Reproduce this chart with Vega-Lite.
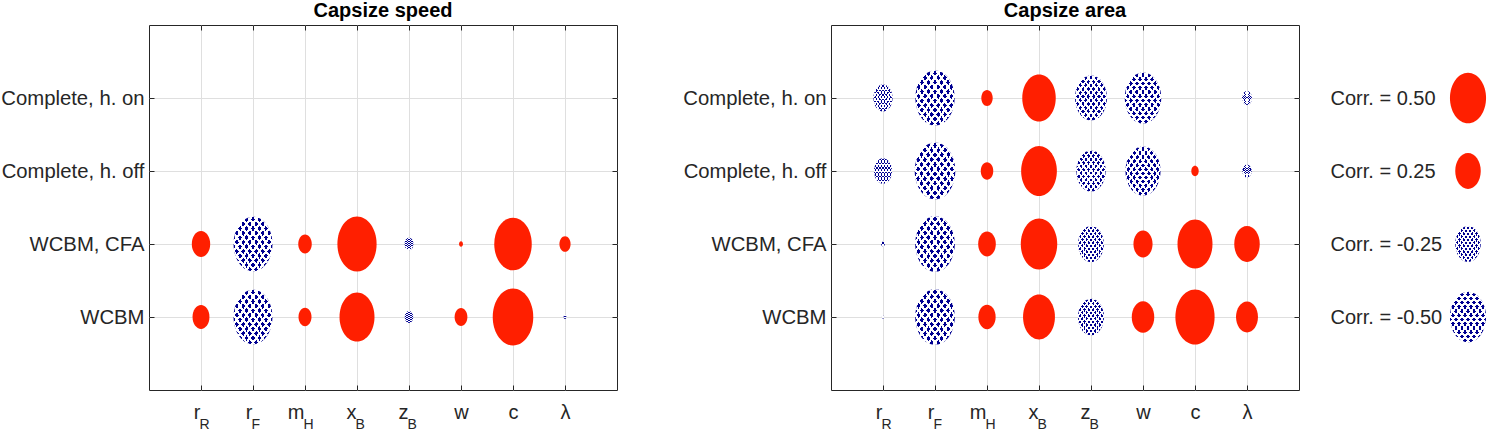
{
  "$schema": "https://vega.github.io/schema/vega-lite/v6.json",
  "padding": {"left": 0, "top": 0, "right": 0, "bottom": 0},
  "background": "white",
  "config": {
    "view": {"stroke": "#262626", "strokeWidth": 1},
    "font": "Liberation Sans",
    "axis": {"labelFont": "Liberation Sans", "labelColor": "#262626", "tickColor": "#262626", "gridColor": "#dfdfdf", "gridOpacity": 1, "labelOverlap": false}
  },
  "datasets": {
    "speed": [
      {"case": "WCBM, CFA", "var": "r_R", "mag": 0.13, "sign": "pos"},
      {"case": "WCBM, CFA", "var": "r_F", "mag": 0.58, "sign": "neg"},
      {"case": "WCBM, CFA", "var": "m_H", "mag": 0.07, "sign": "pos"},
      {"case": "WCBM, CFA", "var": "x_B", "mag": 0.59, "sign": "pos"},
      {"case": "WCBM, CFA", "var": "z_B", "mag": 0.03, "sign": "neg"},
      {"case": "WCBM, CFA", "var": "w", "mag": 0.006, "sign": "pos"},
      {"case": "WCBM, CFA", "var": "c", "mag": 0.54, "sign": "pos"},
      {"case": "WCBM, CFA", "var": "λ", "mag": 0.048, "sign": "pos"},
      {"case": "WCBM", "var": "r_R", "mag": 0.11, "sign": "pos"},
      {"case": "WCBM", "var": "r_F", "mag": 0.58, "sign": "neg"},
      {"case": "WCBM", "var": "m_H", "mag": 0.065, "sign": "pos"},
      {"case": "WCBM", "var": "x_B", "mag": 0.47, "sign": "pos"},
      {"case": "WCBM", "var": "z_B", "mag": 0.027, "sign": "neg"},
      {"case": "WCBM", "var": "w", "mag": 0.063, "sign": "pos"},
      {"case": "WCBM", "var": "c", "mag": 0.63, "sign": "pos"},
      {"case": "WCBM", "var": "λ", "mag": 0.003, "sign": "neg"}
    ],
    "area": [
      {"case": "Complete, h. on", "var": "r_R", "mag": 0.14, "sign": "neg"},
      {"case": "Complete, h. on", "var": "r_F", "mag": 0.59, "sign": "neg"},
      {"case": "Complete, h. on", "var": "m_H", "mag": 0.05, "sign": "pos"},
      {"case": "Complete, h. on", "var": "x_B", "mag": 0.43, "sign": "pos"},
      {"case": "Complete, h. on", "var": "z_B", "mag": 0.39, "sign": "neg"},
      {"case": "Complete, h. on", "var": "w", "mag": 0.51, "sign": "neg"},
      {"case": "Complete, h. on", "var": "λ", "mag": 0.038, "sign": "neg"},
      {"case": "Complete, h. off", "var": "r_R", "mag": 0.125, "sign": "neg"},
      {"case": "Complete, h. off", "var": "r_F", "mag": 0.63, "sign": "neg"},
      {"case": "Complete, h. off", "var": "m_H", "mag": 0.06, "sign": "pos"},
      {"case": "Complete, h. off", "var": "x_B", "mag": 0.49, "sign": "pos"},
      {"case": "Complete, h. off", "var": "z_B", "mag": 0.33, "sign": "neg"},
      {"case": "Complete, h. off", "var": "w", "mag": 0.47, "sign": "neg"},
      {"case": "Complete, h. off", "var": "c", "mag": 0.021, "sign": "pos"},
      {"case": "Complete, h. off", "var": "λ", "mag": 0.033, "sign": "neg"},
      {"case": "WCBM, CFA", "var": "r_R", "mag": 0.005, "sign": "neg"},
      {"case": "WCBM, CFA", "var": "r_F", "mag": 0.6, "sign": "neg"},
      {"case": "WCBM, CFA", "var": "m_H", "mag": 0.12, "sign": "pos"},
      {"case": "WCBM, CFA", "var": "x_B", "mag": 0.51, "sign": "pos"},
      {"case": "WCBM, CFA", "var": "z_B", "mag": 0.255, "sign": "neg"},
      {"case": "WCBM, CFA", "var": "w", "mag": 0.14, "sign": "pos"},
      {"case": "WCBM, CFA", "var": "c", "mag": 0.47, "sign": "pos"},
      {"case": "WCBM, CFA", "var": "λ", "mag": 0.25, "sign": "pos"},
      {"case": "WCBM", "var": "r_R", "mag": 0.002, "sign": "neg"},
      {"case": "WCBM", "var": "r_F", "mag": 0.6, "sign": "neg"},
      {"case": "WCBM", "var": "m_H", "mag": 0.115, "sign": "pos"},
      {"case": "WCBM", "var": "x_B", "mag": 0.39, "sign": "pos"},
      {"case": "WCBM", "var": "z_B", "mag": 0.26, "sign": "neg"},
      {"case": "WCBM", "var": "w", "mag": 0.195, "sign": "pos"},
      {"case": "WCBM", "var": "c", "mag": 0.59, "sign": "pos"},
      {"case": "WCBM", "var": "λ", "mag": 0.185, "sign": "pos"}
    ],
    "legend": [
      {"key": "Corr. = 0.50", "mag": 0.5, "sign": "pos"},
      {"key": "Corr. = 0.25", "mag": 0.25, "sign": "pos"},
      {"key": "Corr. = -0.25", "mag": 0.25, "sign": "neg"},
      {"key": "Corr. = -0.50", "mag": 0.5, "sign": "neg"}
    ]
  },
  "hconcat": [
    {
      "hconcat": [
        {
          "title": {"text": "Capsize speed", "fontSize": 20, "fontWeight": "bold", "color": "#000000", "font": "Liberation Sans", "offset": 4, "anchor": "middle", "frame": "group"},
          "width": 468,
          "height": 365,
          "data": {"name": "speed"},
          "layer": [
            {
              "transform": [{"filter": "datum.sign == 'pos'"}],
              "mark": {"type": "point", "filled": true, "opacity": 1, "strokeWidth": 0, "fill": "#ff1f00", "shape": "M0,-1A0.712,1,0,1,1,0,1A0.712,1,0,1,1,0,-1Z"},
              "encoding": {
                "x": {"field": "var", "type": "nominal", "scale": {"type": "point", "padding": 1, "domain": ["r_R", "r_F", "m_H", "x_B", "z_B", "w", "c", "λ"]},
                  "axis": {"orient": "bottom", "title": null, "grid": true, "domain": false, "ticks": true, "tickSize": -5, "labelFontSize": 20, "labelPadding": 17, "labelAngle": 0, "labelBaseline": "top",
                    "labelExpr": "split(datum.value,'_')[0]",
                    "labelAlign": {"condition": {"test": "indexof(datum.value,'_') >= 0", "value": "right"}, "value": "center"},
                    "labelOffset": {"condition": {"test": "indexof(datum.value,'_') >= 0", "value": -1}, "value": 0}}},
                "y": {"field": "case", "type": "nominal", "scale": {"type": "point", "padding": 1, "domain": ["Complete, h. on", "Complete, h. off", "WCBM, CFA", "WCBM"]},
                  "axis": {"orient": "left", "title": null, "grid": true, "domain": false, "ticks": true, "tickSize": -5, "labelFontSize": 20.3, "labelPadding": 10}},
                "size": {"field": "mag", "type": "quantitative", "scale": {"type": "linear", "domain": [0, 0.5], "range": [0, 2570], "zero": true, "nice": false}, "legend": null}
              }
            },
            {
              "transform": [{"filter": "datum.sign == 'neg'"}],
              "mark": {"type": "point", "filled": true, "opacity": 1, "strokeWidth": 0, "shape": "M0,-1A0.712,1,0,1,1,0,1A0.712,1,0,1,1,0,-1Z",
                "fill": {"gradient": "linear", "x1": 0, "y1": 0, "x2": 1, "y2": 1, "stops": [
                  {"offset": 0, "color": "#000091"}, {"offset": 0.05, "color": "#000091"}, {"offset": 0.05, "color": "#ffffff"}, {"offset": 0.0833, "color": "#ffffff"},
                  {"offset": 0.0833, "color": "#000091"}, {"offset": 0.1333, "color": "#000091"}, {"offset": 0.1333, "color": "#ffffff"}, {"offset": 0.1667, "color": "#ffffff"},
                  {"offset": 0.1667, "color": "#000091"}, {"offset": 0.2167, "color": "#000091"}, {"offset": 0.2167, "color": "#ffffff"}, {"offset": 0.25, "color": "#ffffff"},
                  {"offset": 0.25, "color": "#000091"}, {"offset": 0.3, "color": "#000091"}, {"offset": 0.3, "color": "#ffffff"}, {"offset": 0.3333, "color": "#ffffff"},
                  {"offset": 0.3333, "color": "#000091"}, {"offset": 0.3833, "color": "#000091"}, {"offset": 0.3833, "color": "#ffffff"}, {"offset": 0.4167, "color": "#ffffff"},
                  {"offset": 0.4167, "color": "#000091"}, {"offset": 0.4667, "color": "#000091"}, {"offset": 0.4667, "color": "#ffffff"}, {"offset": 0.5, "color": "#ffffff"},
                  {"offset": 0.5, "color": "#000091"}, {"offset": 0.55, "color": "#000091"}, {"offset": 0.55, "color": "#ffffff"}, {"offset": 0.5833, "color": "#ffffff"},
                  {"offset": 0.5833, "color": "#000091"}, {"offset": 0.6333, "color": "#000091"}, {"offset": 0.6333, "color": "#ffffff"}, {"offset": 0.6667, "color": "#ffffff"},
                  {"offset": 0.6667, "color": "#000091"}, {"offset": 0.7167, "color": "#000091"}, {"offset": 0.7167, "color": "#ffffff"}, {"offset": 0.75, "color": "#ffffff"},
                  {"offset": 0.75, "color": "#000091"}, {"offset": 0.8, "color": "#000091"}, {"offset": 0.8, "color": "#ffffff"}, {"offset": 0.8333, "color": "#ffffff"},
                  {"offset": 0.8333, "color": "#000091"}, {"offset": 0.8833, "color": "#000091"}, {"offset": 0.8833, "color": "#ffffff"}, {"offset": 0.9167, "color": "#ffffff"},
                  {"offset": 0.9167, "color": "#000091"}, {"offset": 0.9667, "color": "#000091"}, {"offset": 0.9667, "color": "#ffffff"}, {"offset": 1, "color": "#ffffff"}
                ]}},
              "encoding": {
                "x": {"field": "var", "type": "nominal", "scale": {"type": "point", "padding": 1, "domain": ["r_R", "r_F", "m_H", "x_B", "z_B", "w", "c", "λ"]},
                  "axis": {"orient": "bottom", "title": null, "grid": false, "domain": false, "ticks": false, "labelFontSize": 14, "labelPadding": 27, "labelAlign": "left", "labelOffset": -2, "labelAngle": 0, "labelBaseline": "top",
                    "labelExpr": "indexof(datum.value,'_') >= 0 ? split(datum.value,'_')[1] : ''"}},
                "y": {"field": "case", "type": "nominal", "scale": {"type": "point", "padding": 1, "domain": ["Complete, h. on", "Complete, h. off", "WCBM, CFA", "WCBM"]},
                  "axis": {"orient": "right", "title": null, "grid": false, "domain": false, "labels": false, "ticks": true, "tickSize": -5}},
                "size": {"field": "mag", "type": "quantitative", "scale": {"type": "linear", "domain": [0, 0.5], "range": [0, 2570], "zero": true, "nice": false}, "legend": null}
              }
            },
            {
              "transform": [{"filter": "datum.sign == 'neg'"}],
              "mark": {"type": "point", "filled": true, "opacity": 1, "strokeWidth": 0, "shape": "M0,-1A0.712,1,0,1,1,0,1A0.712,1,0,1,1,0,-1Z",
                "fill": {"gradient": "linear", "x1": 1, "y1": 0, "x2": 0, "y2": 1, "stops": [
                  {"offset": 0, "color": "rgba(255,255,255,0)"}, {"offset": 0.05, "color": "rgba(255,255,255,0)"}, {"offset": 0.05, "color": "#ffffff"}, {"offset": 0.0833, "color": "#ffffff"},
                  {"offset": 0.0833, "color": "rgba(255,255,255,0)"}, {"offset": 0.1333, "color": "rgba(255,255,255,0)"}, {"offset": 0.1333, "color": "#ffffff"}, {"offset": 0.1667, "color": "#ffffff"},
                  {"offset": 0.1667, "color": "rgba(255,255,255,0)"}, {"offset": 0.2167, "color": "rgba(255,255,255,0)"}, {"offset": 0.2167, "color": "#ffffff"}, {"offset": 0.25, "color": "#ffffff"},
                  {"offset": 0.25, "color": "rgba(255,255,255,0)"}, {"offset": 0.3, "color": "rgba(255,255,255,0)"}, {"offset": 0.3, "color": "#ffffff"}, {"offset": 0.3333, "color": "#ffffff"},
                  {"offset": 0.3333, "color": "rgba(255,255,255,0)"}, {"offset": 0.3833, "color": "rgba(255,255,255,0)"}, {"offset": 0.3833, "color": "#ffffff"}, {"offset": 0.4167, "color": "#ffffff"},
                  {"offset": 0.4167, "color": "rgba(255,255,255,0)"}, {"offset": 0.4667, "color": "rgba(255,255,255,0)"}, {"offset": 0.4667, "color": "#ffffff"}, {"offset": 0.5, "color": "#ffffff"},
                  {"offset": 0.5, "color": "rgba(255,255,255,0)"}, {"offset": 0.55, "color": "rgba(255,255,255,0)"}, {"offset": 0.55, "color": "#ffffff"}, {"offset": 0.5833, "color": "#ffffff"},
                  {"offset": 0.5833, "color": "rgba(255,255,255,0)"}, {"offset": 0.6333, "color": "rgba(255,255,255,0)"}, {"offset": 0.6333, "color": "#ffffff"}, {"offset": 0.6667, "color": "#ffffff"},
                  {"offset": 0.6667, "color": "rgba(255,255,255,0)"}, {"offset": 0.7167, "color": "rgba(255,255,255,0)"}, {"offset": 0.7167, "color": "#ffffff"}, {"offset": 0.75, "color": "#ffffff"},
                  {"offset": 0.75, "color": "rgba(255,255,255,0)"}, {"offset": 0.8, "color": "rgba(255,255,255,0)"}, {"offset": 0.8, "color": "#ffffff"}, {"offset": 0.8333, "color": "#ffffff"},
                  {"offset": 0.8333, "color": "rgba(255,255,255,0)"}, {"offset": 0.8833, "color": "rgba(255,255,255,0)"}, {"offset": 0.8833, "color": "#ffffff"}, {"offset": 0.9167, "color": "#ffffff"},
                  {"offset": 0.9167, "color": "rgba(255,255,255,0)"}, {"offset": 0.9667, "color": "rgba(255,255,255,0)"}, {"offset": 0.9667, "color": "#ffffff"}, {"offset": 1, "color": "#ffffff"}
                ]}},
              "encoding": {
                "x": {"field": "var", "type": "nominal", "scale": {"type": "point", "padding": 1, "domain": ["r_R", "r_F", "m_H", "x_B", "z_B", "w", "c", "λ"]},
                  "axis": {"orient": "top", "title": null, "grid": false, "domain": false, "labels": false, "ticks": true, "tickSize": -5}},
                "y": {"field": "case", "type": "nominal", "scale": {"type": "point", "padding": 1, "domain": ["Complete, h. on", "Complete, h. off", "WCBM, CFA", "WCBM"]}, "axis": null},
                "size": {"field": "mag", "type": "quantitative", "scale": {"type": "linear", "domain": [0, 0.5], "range": [0, 2570], "zero": true, "nice": false}, "legend": null}
              }
            }
          ],
          "resolve": {"axis": {"x": "independent", "y": "independent"}}
        },
        {
          "title": {"text": "Capsize area", "fontSize": 20, "fontWeight": "bold", "color": "#000000", "font": "Liberation Sans", "offset": 4, "anchor": "middle", "frame": "group"},
          "width": 468,
          "height": 365,
          "data": {"name": "area"},
          "layer": [
            {
              "transform": [{"filter": "datum.sign == 'pos'"}],
              "mark": {"type": "point", "filled": true, "opacity": 1, "strokeWidth": 0, "fill": "#ff1f00", "shape": "M0,-1A0.712,1,0,1,1,0,1A0.712,1,0,1,1,0,-1Z"},
              "encoding": {
                "x": {"field": "var", "type": "nominal", "scale": {"type": "point", "padding": 1, "domain": ["r_R", "r_F", "m_H", "x_B", "z_B", "w", "c", "λ"]},
                  "axis": {"orient": "bottom", "title": null, "grid": true, "domain": false, "ticks": true, "tickSize": -5, "labelFontSize": 20, "labelPadding": 17, "labelAngle": 0, "labelBaseline": "top",
                    "labelExpr": "split(datum.value,'_')[0]",
                    "labelAlign": {"condition": {"test": "indexof(datum.value,'_') >= 0", "value": "right"}, "value": "center"},
                    "labelOffset": {"condition": {"test": "indexof(datum.value,'_') >= 0", "value": -1}, "value": 0}}},
                "y": {"field": "case", "type": "nominal", "scale": {"type": "point", "padding": 1, "domain": ["Complete, h. on", "Complete, h. off", "WCBM, CFA", "WCBM"]},
                  "axis": {"orient": "left", "title": null, "grid": true, "domain": false, "ticks": true, "tickSize": -5, "labelFontSize": 20.3, "labelPadding": 10}},
                "size": {"field": "mag", "type": "quantitative", "scale": {"type": "linear", "domain": [0, 0.5], "range": [0, 2570], "zero": true, "nice": false}, "legend": null}
              }
            },
            {
              "transform": [{"filter": "datum.sign == 'neg'"}],
              "mark": {"type": "point", "filled": true, "opacity": 1, "strokeWidth": 0, "shape": "M0,-1A0.712,1,0,1,1,0,1A0.712,1,0,1,1,0,-1Z",
                "fill": {"gradient": "linear", "x1": 0, "y1": 0, "x2": 1, "y2": 1, "stops": [
                  {"offset": 0, "color": "#000091"}, {"offset": 0.05, "color": "#000091"}, {"offset": 0.05, "color": "#ffffff"}, {"offset": 0.0833, "color": "#ffffff"},
                  {"offset": 0.0833, "color": "#000091"}, {"offset": 0.1333, "color": "#000091"}, {"offset": 0.1333, "color": "#ffffff"}, {"offset": 0.1667, "color": "#ffffff"},
                  {"offset": 0.1667, "color": "#000091"}, {"offset": 0.2167, "color": "#000091"}, {"offset": 0.2167, "color": "#ffffff"}, {"offset": 0.25, "color": "#ffffff"},
                  {"offset": 0.25, "color": "#000091"}, {"offset": 0.3, "color": "#000091"}, {"offset": 0.3, "color": "#ffffff"}, {"offset": 0.3333, "color": "#ffffff"},
                  {"offset": 0.3333, "color": "#000091"}, {"offset": 0.3833, "color": "#000091"}, {"offset": 0.3833, "color": "#ffffff"}, {"offset": 0.4167, "color": "#ffffff"},
                  {"offset": 0.4167, "color": "#000091"}, {"offset": 0.4667, "color": "#000091"}, {"offset": 0.4667, "color": "#ffffff"}, {"offset": 0.5, "color": "#ffffff"},
                  {"offset": 0.5, "color": "#000091"}, {"offset": 0.55, "color": "#000091"}, {"offset": 0.55, "color": "#ffffff"}, {"offset": 0.5833, "color": "#ffffff"},
                  {"offset": 0.5833, "color": "#000091"}, {"offset": 0.6333, "color": "#000091"}, {"offset": 0.6333, "color": "#ffffff"}, {"offset": 0.6667, "color": "#ffffff"},
                  {"offset": 0.6667, "color": "#000091"}, {"offset": 0.7167, "color": "#000091"}, {"offset": 0.7167, "color": "#ffffff"}, {"offset": 0.75, "color": "#ffffff"},
                  {"offset": 0.75, "color": "#000091"}, {"offset": 0.8, "color": "#000091"}, {"offset": 0.8, "color": "#ffffff"}, {"offset": 0.8333, "color": "#ffffff"},
                  {"offset": 0.8333, "color": "#000091"}, {"offset": 0.8833, "color": "#000091"}, {"offset": 0.8833, "color": "#ffffff"}, {"offset": 0.9167, "color": "#ffffff"},
                  {"offset": 0.9167, "color": "#000091"}, {"offset": 0.9667, "color": "#000091"}, {"offset": 0.9667, "color": "#ffffff"}, {"offset": 1, "color": "#ffffff"}
                ]}},
              "encoding": {
                "x": {"field": "var", "type": "nominal", "scale": {"type": "point", "padding": 1, "domain": ["r_R", "r_F", "m_H", "x_B", "z_B", "w", "c", "λ"]},
                  "axis": {"orient": "bottom", "title": null, "grid": false, "domain": false, "ticks": false, "labelFontSize": 14, "labelPadding": 27, "labelAlign": "left", "labelOffset": -2, "labelAngle": 0, "labelBaseline": "top",
                    "labelExpr": "indexof(datum.value,'_') >= 0 ? split(datum.value,'_')[1] : ''"}},
                "y": {"field": "case", "type": "nominal", "scale": {"type": "point", "padding": 1, "domain": ["Complete, h. on", "Complete, h. off", "WCBM, CFA", "WCBM"]},
                  "axis": {"orient": "right", "title": null, "grid": false, "domain": false, "labels": false, "ticks": true, "tickSize": -5}},
                "size": {"field": "mag", "type": "quantitative", "scale": {"type": "linear", "domain": [0, 0.5], "range": [0, 2570], "zero": true, "nice": false}, "legend": null}
              }
            },
            {
              "transform": [{"filter": "datum.sign == 'neg'"}],
              "mark": {"type": "point", "filled": true, "opacity": 1, "strokeWidth": 0, "shape": "M0,-1A0.712,1,0,1,1,0,1A0.712,1,0,1,1,0,-1Z",
                "fill": {"gradient": "linear", "x1": 1, "y1": 0, "x2": 0, "y2": 1, "stops": [
                  {"offset": 0, "color": "rgba(255,255,255,0)"}, {"offset": 0.05, "color": "rgba(255,255,255,0)"}, {"offset": 0.05, "color": "#ffffff"}, {"offset": 0.0833, "color": "#ffffff"},
                  {"offset": 0.0833, "color": "rgba(255,255,255,0)"}, {"offset": 0.1333, "color": "rgba(255,255,255,0)"}, {"offset": 0.1333, "color": "#ffffff"}, {"offset": 0.1667, "color": "#ffffff"},
                  {"offset": 0.1667, "color": "rgba(255,255,255,0)"}, {"offset": 0.2167, "color": "rgba(255,255,255,0)"}, {"offset": 0.2167, "color": "#ffffff"}, {"offset": 0.25, "color": "#ffffff"},
                  {"offset": 0.25, "color": "rgba(255,255,255,0)"}, {"offset": 0.3, "color": "rgba(255,255,255,0)"}, {"offset": 0.3, "color": "#ffffff"}, {"offset": 0.3333, "color": "#ffffff"},
                  {"offset": 0.3333, "color": "rgba(255,255,255,0)"}, {"offset": 0.3833, "color": "rgba(255,255,255,0)"}, {"offset": 0.3833, "color": "#ffffff"}, {"offset": 0.4167, "color": "#ffffff"},
                  {"offset": 0.4167, "color": "rgba(255,255,255,0)"}, {"offset": 0.4667, "color": "rgba(255,255,255,0)"}, {"offset": 0.4667, "color": "#ffffff"}, {"offset": 0.5, "color": "#ffffff"},
                  {"offset": 0.5, "color": "rgba(255,255,255,0)"}, {"offset": 0.55, "color": "rgba(255,255,255,0)"}, {"offset": 0.55, "color": "#ffffff"}, {"offset": 0.5833, "color": "#ffffff"},
                  {"offset": 0.5833, "color": "rgba(255,255,255,0)"}, {"offset": 0.6333, "color": "rgba(255,255,255,0)"}, {"offset": 0.6333, "color": "#ffffff"}, {"offset": 0.6667, "color": "#ffffff"},
                  {"offset": 0.6667, "color": "rgba(255,255,255,0)"}, {"offset": 0.7167, "color": "rgba(255,255,255,0)"}, {"offset": 0.7167, "color": "#ffffff"}, {"offset": 0.75, "color": "#ffffff"},
                  {"offset": 0.75, "color": "rgba(255,255,255,0)"}, {"offset": 0.8, "color": "rgba(255,255,255,0)"}, {"offset": 0.8, "color": "#ffffff"}, {"offset": 0.8333, "color": "#ffffff"},
                  {"offset": 0.8333, "color": "rgba(255,255,255,0)"}, {"offset": 0.8833, "color": "rgba(255,255,255,0)"}, {"offset": 0.8833, "color": "#ffffff"}, {"offset": 0.9167, "color": "#ffffff"},
                  {"offset": 0.9167, "color": "rgba(255,255,255,0)"}, {"offset": 0.9667, "color": "rgba(255,255,255,0)"}, {"offset": 0.9667, "color": "#ffffff"}, {"offset": 1, "color": "#ffffff"}
                ]}},
              "encoding": {
                "x": {"field": "var", "type": "nominal", "scale": {"type": "point", "padding": 1, "domain": ["r_R", "r_F", "m_H", "x_B", "z_B", "w", "c", "λ"]},
                  "axis": {"orient": "top", "title": null, "grid": false, "domain": false, "labels": false, "ticks": true, "tickSize": -5}},
                "y": {"field": "case", "type": "nominal", "scale": {"type": "point", "padding": 1, "domain": ["Complete, h. on", "Complete, h. off", "WCBM, CFA", "WCBM"]}, "axis": null},
                "size": {"field": "mag", "type": "quantitative", "scale": {"type": "linear", "domain": [0, 0.5], "range": [0, 2570], "zero": true, "nice": false}, "legend": null}
              }
            }
          ],
          "resolve": {"axis": {"x": "independent", "y": "independent"}}
        }
      ],
      "spacing": 64
    },
    {
      "width": 38,
      "height": 365,
      "view": {"stroke": null},
      "data": {"name": "legend"},
      "layer": [
        {
          "transform": [{"filter": "datum.sign == 'pos'"}],
          "mark": {"type": "point", "filled": true, "opacity": 1, "strokeWidth": 0, "fill": "#ff1f00", "shape": "M0,-1A0.712,1,0,1,1,0,1A0.712,1,0,1,1,0,-1Z"},
          "encoding": {
            "y": {"field": "key", "type": "nominal", "scale": {"type": "point", "padding": 1, "domain": ["Corr. = 0.50", "Corr. = 0.25", "Corr. = -0.25", "Corr. = -0.50"]},
              "axis": {"orient": "left", "title": null, "grid": false, "domain": false, "ticks": false, "labelAlign": "left", "labelPadding": 119, "labelFontSize": 20}},
            "size": {"field": "mag", "type": "quantitative", "scale": {"type": "linear", "domain": [0, 0.5], "range": [0, 2570], "zero": true, "nice": false}, "legend": null}
          }
        },
        {
          "transform": [{"filter": "datum.sign == 'neg'"}],
          "mark": {"type": "point", "filled": true, "opacity": 1, "strokeWidth": 0, "shape": "M0,-1A0.712,1,0,1,1,0,1A0.712,1,0,1,1,0,-1Z",
            "fill": {"gradient": "linear", "x1": 0, "y1": 0, "x2": 1, "y2": 1, "stops": [
              {"offset": 0, "color": "#000091"}, {"offset": 0.05, "color": "#000091"}, {"offset": 0.05, "color": "#ffffff"}, {"offset": 0.0833, "color": "#ffffff"},
              {"offset": 0.0833, "color": "#000091"}, {"offset": 0.1333, "color": "#000091"}, {"offset": 0.1333, "color": "#ffffff"}, {"offset": 0.1667, "color": "#ffffff"},
              {"offset": 0.1667, "color": "#000091"}, {"offset": 0.2167, "color": "#000091"}, {"offset": 0.2167, "color": "#ffffff"}, {"offset": 0.25, "color": "#ffffff"},
              {"offset": 0.25, "color": "#000091"}, {"offset": 0.3, "color": "#000091"}, {"offset": 0.3, "color": "#ffffff"}, {"offset": 0.3333, "color": "#ffffff"},
              {"offset": 0.3333, "color": "#000091"}, {"offset": 0.3833, "color": "#000091"}, {"offset": 0.3833, "color": "#ffffff"}, {"offset": 0.4167, "color": "#ffffff"},
              {"offset": 0.4167, "color": "#000091"}, {"offset": 0.4667, "color": "#000091"}, {"offset": 0.4667, "color": "#ffffff"}, {"offset": 0.5, "color": "#ffffff"},
              {"offset": 0.5, "color": "#000091"}, {"offset": 0.55, "color": "#000091"}, {"offset": 0.55, "color": "#ffffff"}, {"offset": 0.5833, "color": "#ffffff"},
              {"offset": 0.5833, "color": "#000091"}, {"offset": 0.6333, "color": "#000091"}, {"offset": 0.6333, "color": "#ffffff"}, {"offset": 0.6667, "color": "#ffffff"},
              {"offset": 0.6667, "color": "#000091"}, {"offset": 0.7167, "color": "#000091"}, {"offset": 0.7167, "color": "#ffffff"}, {"offset": 0.75, "color": "#ffffff"},
              {"offset": 0.75, "color": "#000091"}, {"offset": 0.8, "color": "#000091"}, {"offset": 0.8, "color": "#ffffff"}, {"offset": 0.8333, "color": "#ffffff"},
              {"offset": 0.8333, "color": "#000091"}, {"offset": 0.8833, "color": "#000091"}, {"offset": 0.8833, "color": "#ffffff"}, {"offset": 0.9167, "color": "#ffffff"},
              {"offset": 0.9167, "color": "#000091"}, {"offset": 0.9667, "color": "#000091"}, {"offset": 0.9667, "color": "#ffffff"}, {"offset": 1, "color": "#ffffff"}
            ]}},
          "encoding": {
            "y": {"field": "key", "type": "nominal", "scale": {"type": "point", "padding": 1, "domain": ["Corr. = 0.50", "Corr. = 0.25", "Corr. = -0.25", "Corr. = -0.50"]}, "axis": null},
            "size": {"field": "mag", "type": "quantitative", "scale": {"type": "linear", "domain": [0, 0.5], "range": [0, 2570], "zero": true, "nice": false}, "legend": null}
          }
        },
        {
          "transform": [{"filter": "datum.sign == 'neg'"}],
          "mark": {"type": "point", "filled": true, "opacity": 1, "strokeWidth": 0, "shape": "M0,-1A0.712,1,0,1,1,0,1A0.712,1,0,1,1,0,-1Z",
            "fill": {"gradient": "linear", "x1": 1, "y1": 0, "x2": 0, "y2": 1, "stops": [
              {"offset": 0, "color": "rgba(255,255,255,0)"}, {"offset": 0.05, "color": "rgba(255,255,255,0)"}, {"offset": 0.05, "color": "#ffffff"}, {"offset": 0.0833, "color": "#ffffff"},
              {"offset": 0.0833, "color": "rgba(255,255,255,0)"}, {"offset": 0.1333, "color": "rgba(255,255,255,0)"}, {"offset": 0.1333, "color": "#ffffff"}, {"offset": 0.1667, "color": "#ffffff"},
              {"offset": 0.1667, "color": "rgba(255,255,255,0)"}, {"offset": 0.2167, "color": "rgba(255,255,255,0)"}, {"offset": 0.2167, "color": "#ffffff"}, {"offset": 0.25, "color": "#ffffff"},
              {"offset": 0.25, "color": "rgba(255,255,255,0)"}, {"offset": 0.3, "color": "rgba(255,255,255,0)"}, {"offset": 0.3, "color": "#ffffff"}, {"offset": 0.3333, "color": "#ffffff"},
              {"offset": 0.3333, "color": "rgba(255,255,255,0)"}, {"offset": 0.3833, "color": "rgba(255,255,255,0)"}, {"offset": 0.3833, "color": "#ffffff"}, {"offset": 0.4167, "color": "#ffffff"},
              {"offset": 0.4167, "color": "rgba(255,255,255,0)"}, {"offset": 0.4667, "color": "rgba(255,255,255,0)"}, {"offset": 0.4667, "color": "#ffffff"}, {"offset": 0.5, "color": "#ffffff"},
              {"offset": 0.5, "color": "rgba(255,255,255,0)"}, {"offset": 0.55, "color": "rgba(255,255,255,0)"}, {"offset": 0.55, "color": "#ffffff"}, {"offset": 0.5833, "color": "#ffffff"},
              {"offset": 0.5833, "color": "rgba(255,255,255,0)"}, {"offset": 0.6333, "color": "rgba(255,255,255,0)"}, {"offset": 0.6333, "color": "#ffffff"}, {"offset": 0.6667, "color": "#ffffff"},
              {"offset": 0.6667, "color": "rgba(255,255,255,0)"}, {"offset": 0.7167, "color": "rgba(255,255,255,0)"}, {"offset": 0.7167, "color": "#ffffff"}, {"offset": 0.75, "color": "#ffffff"},
              {"offset": 0.75, "color": "rgba(255,255,255,0)"}, {"offset": 0.8, "color": "rgba(255,255,255,0)"}, {"offset": 0.8, "color": "#ffffff"}, {"offset": 0.8333, "color": "#ffffff"},
              {"offset": 0.8333, "color": "rgba(255,255,255,0)"}, {"offset": 0.8833, "color": "rgba(255,255,255,0)"}, {"offset": 0.8833, "color": "#ffffff"}, {"offset": 0.9167, "color": "#ffffff"},
              {"offset": 0.9167, "color": "rgba(255,255,255,0)"}, {"offset": 0.9667, "color": "rgba(255,255,255,0)"}, {"offset": 0.9667, "color": "#ffffff"}, {"offset": 1, "color": "#ffffff"}
            ]}},
          "encoding": {
            "y": {"field": "key", "type": "nominal", "scale": {"type": "point", "padding": 1, "domain": ["Corr. = 0.50", "Corr. = 0.25", "Corr. = -0.25", "Corr. = -0.50"]}, "axis": null},
            "size": {"field": "mag", "type": "quantitative", "scale": {"type": "linear", "domain": [0, 0.5], "range": [0, 2570], "zero": true, "nice": false}, "legend": null}
          }
        }
      ],
      "resolve": {"axis": {"y": "independent"}}
    }
  ],
  "spacing": 30
}
